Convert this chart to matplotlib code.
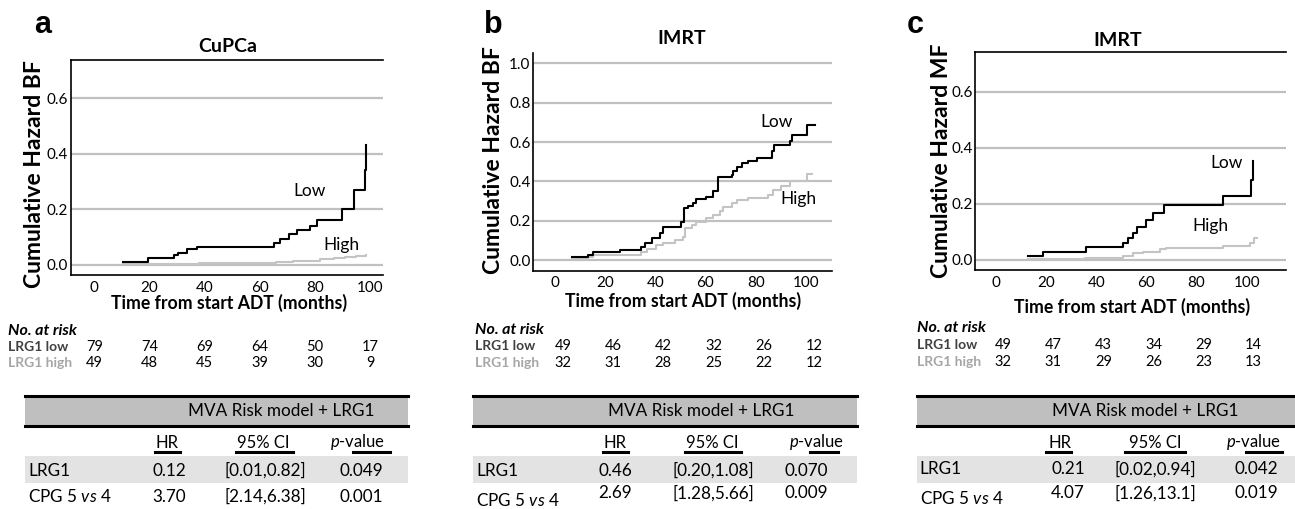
import matplotlib
matplotlib.use("Agg")
import matplotlib.pyplot as plt
from matplotlib.patches import Rectangle
from matplotlib.lines import Line2D
from matplotlib.transforms import blended_transform_factory, ScaledTranslation

plt.rcParams['font.family'] = ['Lato', 'DejaVu Sans']
plt.rcParams['mathtext.fontset'] = 'custom'
plt.rcParams['mathtext.rm'] = 'Lato'
plt.rcParams['mathtext.it'] = 'Lato:italic'

# --- data (months, cumulative hazard) ---
a_low_t = [10.3, 19.4, 28.7, 30.5, 33.7, 37.1, 65.2, 67.4, 70.6, 73.4, 78.2, 80.6, 89.7, 94.2, 98.3, 98.6]
a_low_y = [0.011, 0.023, 0.035, 0.043, 0.055, 0.065, 0.079, 0.093, 0.109, 0.125, 0.141, 0.161, 0.200, 0.269, 0.341, 0.431]
a_high_t = [10.3, 22, 38, 52, 66, 72, 77, 82, 87, 91, 95, 98.5]
a_high_y = [0.002, 0.004, 0.006, 0.007, 0.009, 0.012, 0.015, 0.019, 0.023, 0.027, 0.032, 0.034]

b_low_t = [7.0, 13.0, 15.3, 25.9, 34.5, 35.9, 38.5, 41.8, 42.9, 50.1, 51.4, 53.0, 55.1, 56.4, 60.4, 63.1,
           65.1, 70.4, 71.0, 72.4, 74.4, 77.0, 80.4, 86.3, 87.3, 93.6, 94.5, 100.3, 103.6]
b_low_y = [0.014, 0.024, 0.042, 0.051, 0.068, 0.088, 0.110, 0.136, 0.170, 0.195, 0.263, 0.275, 0.288, 0.309,
           0.319, 0.351, 0.424, 0.433, 0.455, 0.475, 0.492, 0.506, 0.518, 0.553, 0.587, 0.603, 0.637, 0.688, 0.688]
b_high_t = [7.0, 13.0, 15.0, 34.5, 36.5, 40.4, 43.0, 48.0, 51.1, 51.8, 54.5, 56.4, 60.4, 63.1, 65.7, 67.1,
            70.4, 72.4, 77.0, 85.0, 87.0, 90.0, 93.6, 100.3, 102.5]
b_high_y = [0.005, 0.018, 0.025, 0.042, 0.054, 0.076, 0.085, 0.100, 0.119, 0.161, 0.178, 0.195, 0.212, 0.229,
            0.250, 0.271, 0.290, 0.307, 0.316, 0.333, 0.358, 0.375, 0.400, 0.436, 0.436]

c_low_t = [12.9, 18.6, 35.9, 50.8, 52.8, 54.5, 56.1, 59.8, 62.7, 67.0, 90.4, 101.8, 102.6]
c_low_y = [0.013, 0.029, 0.044, 0.061, 0.079, 0.095, 0.117, 0.140, 0.165, 0.196, 0.228, 0.283, 0.354]
c_high_t = [12.9, 35.5, 50.8, 54.8, 58.8, 65.5, 68.0, 90.4, 101.5, 102.8, 104.0]
c_high_y = [0.003, 0.006, 0.013, 0.023, 0.029, 0.038, 0.042, 0.050, 0.060, 0.077, 0.077]

risk_times = [0, 20, 40, 60, 80, 100]
a_risk_low = [79, 74, 69, 64, 50, 17]
a_risk_high = [49, 48, 45, 39, 30, 9]
b_risk_low = [49, 46, 42, 32, 26, 12]
b_risk_high = [32, 31, 28, 25, 22, 12]
c_risk_low = [49, 47, 43, 34, 29, 14]
c_risk_high = [32, 31, 29, 26, 23, 13]

col_heads = ["HR", "95% CI", "$\\mathit{p}$-value"]
row_names = ["LRG1", "CPG 5 $\\mathit{vs}$ 4"]
a_table = [["0.12", "[0.01,0.82]", "0.049"], ["3.70", "[2.14,6.38]", "0.001"]]
b_table = [["0.46", "[0.20,1.08]", "0.070"], ["2.69", "[1.28,5.66]", "0.009"]]
c_table = [["0.21", "[0.02,0.94]", "0.042"], ["4.07", "[1.26,13.1]", "0.019"]]

W, H = 1295, 509
fig = plt.figure(figsize=(W / 100, H / 100), dpi=100)

LOWC = "black"
HIGHC = "#c4c4c4"
GRIDC = "#c0c0c0"


def ptext(x, y, s, **kw):
    return fig.text(x / W, 1 - y / H, s, **kw)


def pline(x0, x1, y, lw, color="black"):
    fig.add_artist(Line2D([x0 / W, x1 / W], [1 - y / H, 1 - y / H], lw=lw, color=color,
                          transform=fig.transFigure))


def prect(x0, y0, x1, y1, color):
    fig.add_artist(Rectangle((x0 / W, 1 - y1 / H), (x1 - x0) / W, (y1 - y0) / H,
                             color=color, lw=0, transform=fig.transFigure))


panels = [
    dict(box=(71, 383, 60, 275), xlim=(-8.5, 104.7), ylim=(-0.037, 0.738), yt=[0, 0.2, 0.4, 0.6],
         low=(a_low_t, a_low_y), high=(a_high_t, a_high_y), hide=["right"],
         letter=("a", 43, 25), title=("CuPCa", 228, 47), ylab=("Cumulative Hazard BF", 35, 174),
         xlab=(229, 303), lowlab=(78.2, 0.267), highlab=(89.7, 0.071),
         risk=(a_risk_low, a_risk_high), risk_lab=8, risk_y=(331, 347, 363), risk_dx=0,
         tab=a_table, tx=(25, 408), hcx=281.7, cols=[166.7, 263, 358],
         ulines=[(155, 180), (235.7, 293.3), (352.7, 390)], vals=[169, 265, 361.7], rowy=(470.7, 496.7, 496.7)),
    dict(box=(533.3, 832, 52.7, 270.7), xlim=(-8.6, 110.4), ylim=(-0.054, 1.054), yt=[0, 0.2, 0.4, 0.6, 0.8, 1.0],
         low=(b_low_t, b_low_y), high=(b_high_t, b_high_y), hide=["right", "top"],
         letter=("b", 493, 25), title=("IMRT", 682, 39), ylab=("Cumulative Hazard BF", 493, 160),
         xlab=(683, 301), lowlab=(88.3, 0.703), highlab=(97, 0.309),
         risk=(b_risk_low, b_risk_high), risk_lab=475, risk_y=(330, 346, 363), risk_dx=8,
         tab=b_table, tx=(473.3, 857), hcx=701.7, cols=[615, 712.7, 816.7],
         ulines=[(603, 628), (685, 740.7), (810, 838)], vals=[615, 713, 806], rowy=(470.7, 500, 493)),
    dict(box=(975.3, 1286, 52.3, 270), xlim=(-8.3, 115.7), ylim=(-0.037, 0.741), yt=[0, 0.2, 0.4, 0.6],
         low=(c_low_t, c_low_y), high=(c_high_t, c_high_y), hide=["right"],
         letter=("c", 915, 25), title=("IMRT", 1118, 40), ylab=("Cumulative Hazard MF", 942, 161),
         xlab=(1132, 307), lowlab=(92, 0.344), highlab=(85.6, 0.12),
         risk=(c_risk_low, c_risk_high), risk_lab=917, risk_y=(328, 345, 362), risk_dx=7,
         tab=c_table, tx=(916.7, 1295), hcx=1145, cols=[1060, 1155, 1253.3],
         ulines=[(1046, 1071), (1125, 1185), (1246, 1281.7)], vals=[1068, 1155, 1256.7], rowy=(469, 498, 493.3)),
]

for p in panels:
    l, r, t, b = p["box"]
    ax = fig.add_axes([l / W, 1 - b / H, (r - l) / W, (b - t) / H])
    ax.set_xlim(*p["xlim"])
    ax.set_ylim(*p["ylim"])
    ax.set_yticks(p["yt"])
    ax.set_yticklabels([f"{v:.1f}" for v in p["yt"]])
    ax.set_xticks(risk_times)
    ax.tick_params(length=0, labelsize=11)
    ax.tick_params(axis="y", pad=2)
    ax.tick_params(axis="x", pad=4)
    ax.grid(axis="y", color=GRIDC, lw=1.6)
    ax.set_axisbelow(True)
    for s in p["hide"]:
        ax.spines[s].set_visible(False)
    for s in ax.spines.values():
        s.set_linewidth(1.2)

    ax.step(p["high"][0], p["high"][1], where="post", color=HIGHC, lw=1.5)
    ax.step(p["low"][0], p["low"][1], where="post", color=LOWC, lw=1.5)
    ax.text(*p["lowlab"], "Low", fontsize=12.5, ha="center", va="center")
    ax.text(*p["highlab"], "High", fontsize=12.5, ha="center", va="center")

    ptext(p["letter"][1], p["letter"][2], p["letter"][0], family="Liberation Sans",
          fontweight="bold", fontsize=22, ha="center", va="center")
    ptext(p["title"][1], p["title"][2], p["title"][0], fontweight="bold", fontsize=14,
          ha="center", va="center")
    ptext(p["ylab"][1], p["ylab"][2], p["ylab"][0], fontweight="bold", fontsize=16.5,
          rotation=90, ha="center", va="center")
    ptext(p["xlab"][0], p["xlab"][1], "Time from start ADT (months)", fontweight="bold",
          fontsize=12.7, ha="center", va="center")

    # numbers at risk
    y0, y1, y2 = p["risk_y"]
    ptext(p["risk_lab"], y0, "No. at risk", fontweight="bold", style="italic", fontsize=11.5,
          ha="left", va="center")
    ptext(p["risk_lab"], y1, "LRG1 low", fontweight="bold", fontsize=10, color="#404040",
          ha="left", va="center")
    ptext(p["risk_lab"], y2, "LRG1 high", fontweight="bold", fontsize=10, color="#a6a6a6",
          ha="left", va="center")
    tr = blended_transform_factory(ax.transData, fig.transFigure) + \
        ScaledTranslation(p["risk_dx"] / 100, 0, fig.dpi_scale_trans)
    for tm, nl, nh in zip(risk_times, p["risk"][0], p["risk"][1]):
        ax.text(tm, 1 - y1 / H, str(nl), transform=tr, fontsize=10.5, ha="center", va="center",
                clip_on=False)
        ax.text(tm, 1 - y2 / H, str(nh), transform=tr, fontsize=10.5, ha="center", va="center",
                clip_on=False)

    # MVA table
    x0, x1 = p["tx"]
    prect(x0, 396.5, x1, 425, "#bfbfbf")
    pline(x0, x1, 395.5, 2.2)
    pline(x0, x1, 426, 2.2)
    ptext(p["hcx"], 411, "MVA Risk model + LRG1", fontsize=12.3, ha="center", va="center")
    for cx, head, (u0, u1) in zip(p["cols"], col_heads, p["ulines"]):
        ptext(cx, 442.5, head, fontsize=12, ha="center", va="center")
        pline(u0, u1, 451.5, 2.2)
    prect(x0, 456, x1, 482.5, "#e3e3e3")
    ry_lab1, ry_lab2, ry_val2 = p["rowy"]
    ptext(x0 + 3, ry_lab1, row_names[0], fontsize=12.3, ha="left", va="center")
    ptext(x0 + 3, ry_lab2, row_names[1], fontsize=12.3, ha="left", va="center")
    for vx, v1, v2 in zip(p["vals"], p["tab"][0], p["tab"][1]):
        ptext(vx, ry_lab1, v1, fontsize=12.3, ha="center", va="center")
        ptext(vx, ry_val2, v2, fontsize=12.3, ha="center", va="center")

fig.savefig("out.png", dpi=100)
